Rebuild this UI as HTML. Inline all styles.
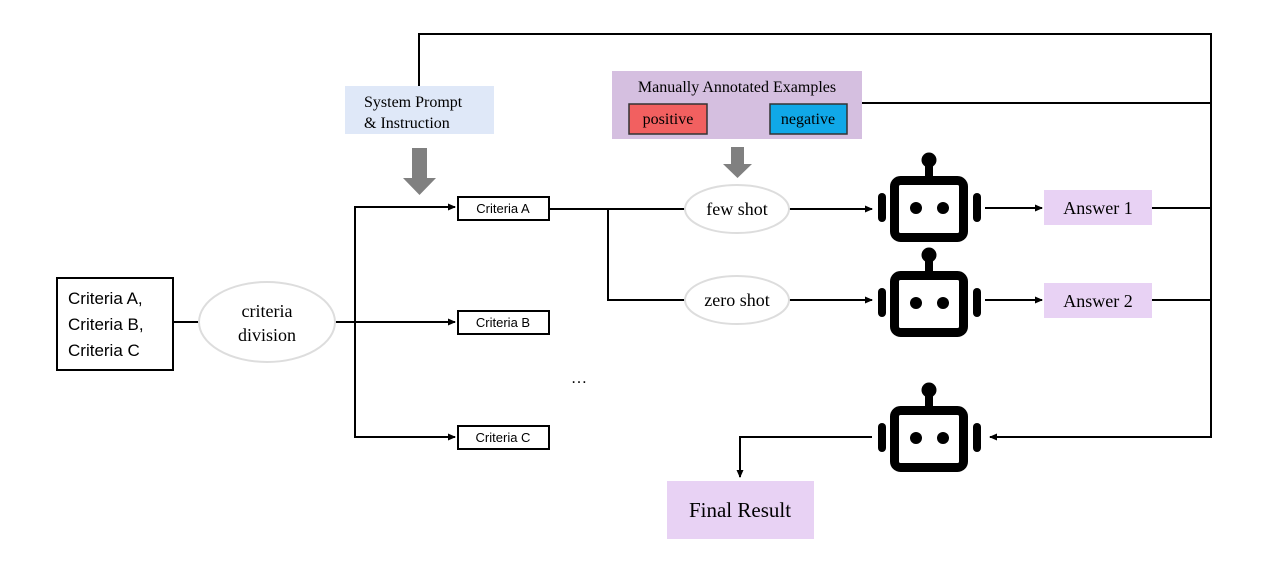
<!DOCTYPE html><html><head><style>body{margin:0;background:#fff}</style></head><body>
<svg width="1267" height="569" xmlns="http://www.w3.org/2000/svg" font-family="Liberation Serif, serif">
<defs><marker id="a" markerWidth="8" markerHeight="8" refX="7" refY="4" orient="auto" markerUnits="userSpaceOnUse"><path d="M0,0.5 L8,4 L0,7.5Z" fill="#000"/></marker>
<g id="r"><circle cx="929" cy="160" r="7.5" fill="#000"/><rect x="925" y="160" width="8" height="18" fill="#000"/><rect x="894.5" y="180.5" width="69" height="57" rx="6" fill="none" stroke="#000" stroke-width="9"/><circle cx="916" cy="208" r="6" fill="#000"/><circle cx="943" cy="208" r="6" fill="#000"/><rect x="878" y="193" width="8" height="29" rx="4" fill="#000"/><rect x="973" y="193" width="8" height="29" rx="4" fill="#000"/></g></defs>
<g stroke="#000" stroke-width="2" fill="none">
<polyline points="419,86 419,34 1211,34 1211,437 990,437" marker-end="url(#a)"/>
<line x1="862" y1="103" x2="1211" y2="103"/>
<line x1="1152" y1="208" x2="1211" y2="208"/><line x1="1152" y1="300" x2="1211" y2="300"/>
<polyline points="872,437 740,437 740,477" marker-end="url(#a)"/>
<line x1="173" y1="322" x2="200" y2="322"/>
<line x1="335" y1="322" x2="455" y2="322" marker-end="url(#a)"/>
<polyline points="455,207 355,207 355,437 455,437" />
<line x1="440" y1="207" x2="455" y2="207" marker-end="url(#a)"/><line x1="440" y1="437" x2="455" y2="437" marker-end="url(#a)"/>
<line x1="550" y1="209" x2="686" y2="209"/>
<polyline points="608,209 608,300 686,300"/>
<line x1="789" y1="209" x2="872" y2="209" marker-end="url(#a)"/>
<line x1="789" y1="300" x2="872" y2="300" marker-end="url(#a)"/>
<line x1="985" y1="208" x2="1042" y2="208" marker-end="url(#a)"/>
<line x1="985" y1="300" x2="1042" y2="300" marker-end="url(#a)"/>
</g>
<rect x="345" y="86" width="149" height="48" fill="#dfe8f8"/>
<text x="364" y="107" font-size="16">System Prompt</text><text x="364" y="128" font-size="16">&amp; Instruction</text>
<rect x="612" y="71" width="250" height="68" fill="#d5bfe0"/>
<text x="737" y="92" font-size="16" text-anchor="middle">Manually Annotated Examples</text>
<rect x="629" y="104" width="78" height="30" fill="#f26060" stroke="#333" stroke-width="1.5"/><text x="668" y="124" font-size="16" text-anchor="middle">positive</text>
<rect x="770" y="104" width="77" height="30" fill="#10a8e8" stroke="#333" stroke-width="1.5"/><text x="808" y="124" font-size="16" text-anchor="middle">negative</text>
<path d="M412,148h15v30h9l-16.5,17l-16.5,-17h9z" fill="#808080"/>
<path d="M731,147h13v17h8l-14.5,14l-14.5,-14h8z" fill="#808080"/>
<rect x="57" y="278" width="116" height="92" fill="#fff" stroke="#000" stroke-width="2"/>
<g font-family="Liberation Sans, sans-serif" font-size="17"><text x="68" y="304">Criteria A,</text><text x="68" y="330">Criteria B,</text><text x="68" y="356">Criteria C</text></g>
<ellipse cx="267" cy="322" rx="68" ry="40" fill="#fff" stroke="#ddd" stroke-width="2"/>
<text x="267" y="317" font-size="18" text-anchor="middle">criteria</text><text x="267" y="341" font-size="18" text-anchor="middle">division</text>
<g font-family="Liberation Sans, sans-serif" font-size="13" text-anchor="middle">
<rect x="458" y="197" width="91" height="23" fill="#fff" stroke="#000" stroke-width="2"/><text x="503" y="213">Criteria A</text>
<rect x="458" y="311" width="91" height="23" fill="#fff" stroke="#000" stroke-width="2"/><text x="503" y="327">Criteria B</text>
<rect x="458" y="426" width="91" height="23" fill="#fff" stroke="#000" stroke-width="2"/><text x="503" y="442">Criteria C</text>
</g>
<text x="579" y="383" font-size="16" text-anchor="middle">…</text>
<ellipse cx="737" cy="209" rx="52" ry="24" fill="#fff" stroke="#ddd" stroke-width="2"/><text x="737" y="215" font-size="18" text-anchor="middle">few shot</text>
<ellipse cx="737" cy="300" rx="52" ry="24" fill="#fff" stroke="#ddd" stroke-width="2"/><text x="737" y="306" font-size="18" text-anchor="middle">zero shot</text>
<use href="#r"/><use href="#r" y="95"/><use href="#r" y="230"/>
<rect x="1044" y="190" width="108" height="35" fill="#e8d2f4"/><text x="1098" y="214" font-size="18" text-anchor="middle">Answer 1</text>
<rect x="1044" y="283" width="108" height="35" fill="#e8d2f4"/><text x="1098" y="307" font-size="18" text-anchor="middle">Answer 2</text>
<rect x="667" y="481" width="147" height="58" fill="#e8d2f4"/><text x="740" y="517" font-size="21" text-anchor="middle">Final Result</text>
</svg></body></html>
